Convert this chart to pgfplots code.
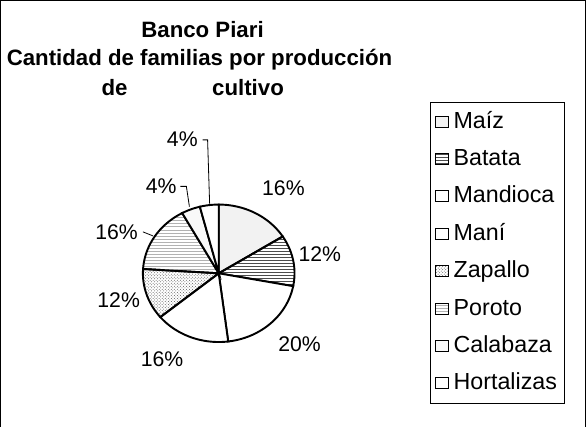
\documentclass[border=0pt]{standalone}
\usepackage{fontspec}
\setmainfont{Liberation Sans}
\usepackage{pgfplots}
\usepackage{pgfplotstable}
\pgfplotsset{compat=1.18}
\usetikzlibrary{patterns}

% share of families per crop, clockwise from 12 o'clock
\pgfplotstableread{
name value
Maíz 16
Batata 12
Mandioca 20
Maní 16
Zapallo 12
Poroto 16
Calabaza 4
Hortalizas 4
}\piedata

\tikzset{
  slicebase/.style={draw=black, line width=1.9pt},
  slice0/.style={slicebase, fill=gray!10},
  slice1/.style={slicebase, pattern=horizontal lines, pattern color=black!70},
  slice2/.style={slicebase, fill=white},
  slice3/.style={slicebase, fill=white},
  slice4/.style={slicebase, pattern=crosshatch dots, pattern color=black!65},
  slice5/.style={slicebase, pattern=horizontal lines, pattern color=gray!60},
  slice6/.style={slicebase, fill=gray!5},
  slice7/.style={slicebase, fill=white},
}

\begin{document}
\begin{tikzpicture}
\begin{axis}[
    hide axis, scale only axis, clip=false,
    width=586pt, height=425pt,
    xmin=0, xmax=586, ymin=0, ymax=425,
    legend image code/.code={\draw[#1, line width=1pt] (0pt,-5pt) rectangle (12pt,6pt);},
    legend cell align=left,
    legend style={at={(axis cs:428,321)}, anchor=north west,
        draw=black, line width=0.8pt, inner xsep=5pt, inner ysep=6pt,
        font=\fontsize{23}{27}\selectfont, row sep=11pt, column sep=3pt,
        nodes={inner sep=2pt, text height=17pt, text depth=5pt}},
]
\def\startangle{90}
\pgfplotsforeachungrouped \i in {0,...,7}{%
  \pgfplotstablegetelem{\i}{value}\of{\piedata}\let\val\pgfplotsretval
  \pgfplotstablegetelem{\i}{name}\of{\piedata}\let\nm\pgfplotsretval
  \pgfmathsetmacro\endangle{\startangle-3.6*\val}
  \edef\doslice{\noexpand\addplot[slice\i, domain=\endangle:\startangle, samples=60]
      ({219+75*cos(x)},{152+68*sin(x)}) -- (axis cs:219,152) -- cycle;
    \noexpand\addlegendentry{\nm}}%
  \doslice
  \let\startangle\endangle
}

% frame of the chart area
\draw[line width=0.8pt] (axis cs:3,0) -- (axis cs:3,422) -- (axis cs:582,422) -- (axis cs:582,0);

% title
\node[font=\fontsize{22}{26}\selectfont\bfseries] at (axis cs:203,393) {Banco Piari};
\node[font=\fontsize{22}{26}\selectfont\bfseries] at (axis cs:200,363) {Cantidad de familias por producción};
\node[font=\fontsize{22}{26}\selectfont\bfseries] at (axis cs:116,336) {de};
\node[font=\fontsize{22}{26}\selectfont\bfseries] at (axis cs:248,336) {cultivo};

% percentage labels
\begin{scope}[every node/.style={font=\fontsize{21}{25}\selectfont}]
\node at (axis cs:283,236) {16\%};
\node at (axis cs:319,171) {12\%};
\node at (axis cs:299,82) {20\%};
\node at (axis cs:163,67) {16\%};
\node at (axis cs:120,125) {12\%};
\node at (axis cs:118,193) {16\%};
\node at (axis cs:162,238) {4\%};
\node at (axis cs:183,285) {4\%};
\end{scope}
\draw[line width=0.8pt] (axis cs:203,284) -- (axis cs:208,284) -- (axis cs:210,221);
\draw[line width=0.8pt] (axis cs:181,238) -- (axis cs:187,238) -- (axis cs:190,218);
\draw[line width=0.8pt] (axis cs:144,193) -- (axis cs:154,189);
\end{axis}
\end{tikzpicture}
\end{document}
